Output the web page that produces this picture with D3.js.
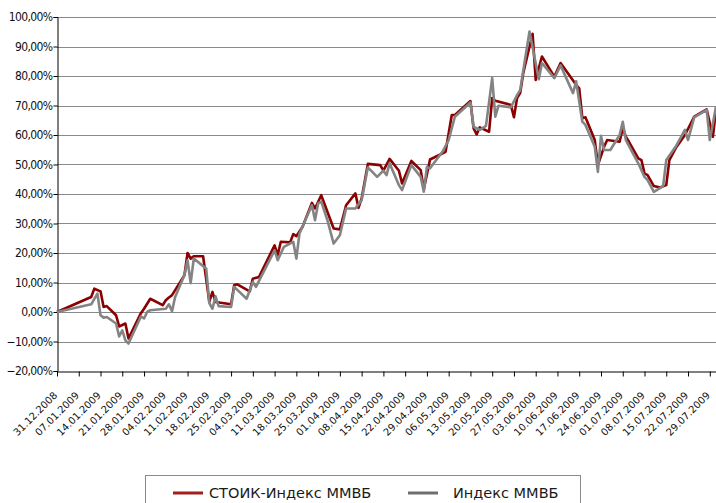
<!DOCTYPE html>
<html><head><meta charset="utf-8">
<script src="https://cdn.jsdelivr.net/npm/d3@7"></script>
<style>
html,body{margin:0;padding:0;background:#fff;}
svg{display:block;}
</style></head>
<body>
<svg id="c" width="716" height="503"></svg>
<script>
const xTickLabels = ["31.12.2008","07.01.2009","14.01.2009","21.01.2009","28.01.2009","04.02.2009","11.02.2009","18.02.2009","25.02.2009","04.03.2009","11.03.2009","18.03.2009","25.03.2009","01.04.2009","08.04.2009","15.04.2009","22.04.2009","29.04.2009","06.05.2009","13.05.2009","20.05.2009","27.05.2009","03.06.2009","10.06.2009","17.06.2009","24.06.2009","01.07.2009","08.07.2009","15.07.2009","22.07.2009","29.07.2009"];
const yTicks = [-20,-10,0,10,20,30,40,50,60,70,80,90,100];
const seriesNames = ["СТОИК-Индекс ММВБ","Индекс ММВБ"];

const stoikDates = ["2008-12-31","2009-01-11","2009-01-12","2009-01-14","2009-01-15","2009-01-16","2009-01-19","2009-01-20","2009-01-22","2009-01-23","2009-01-27","2009-01-28","2009-01-30","2009-02-03","2009-02-04","2009-02-05","2009-02-06","2009-02-10","2009-02-11","2009-02-12","2009-02-13","2009-02-16","2009-02-18","2009-02-19","2009-02-20","2009-02-25","2009-02-26","2009-02-27","2009-03-03","2009-03-04","2009-03-06","2009-03-11","2009-03-12","2009-03-13","2009-03-16","2009-03-17","2009-03-18","2009-03-20","2009-03-23","2009-03-24","2009-03-26","2009-03-30","2009-04-01","2009-04-03","2009-04-06","2009-04-07","2009-04-08","2009-04-10","2009-04-14","2009-04-15","2009-04-17","2009-04-20","2009-04-21","2009-04-24","2009-04-27","2009-04-28","2009-04-30","2009-05-05","2009-05-07","2009-05-08","2009-05-13","2009-05-14","2009-05-15","2009-05-16","2009-05-19","2009-05-20","2009-05-21","2009-05-26","2009-05-27","2009-05-28","2009-05-29","2009-05-30","2009-06-02","2009-06-03","2009-06-05","2009-06-09","2009-06-11","2009-06-16","2009-06-17","2009-06-18","2009-06-19","2009-06-22","2009-06-23","2009-06-25","2009-06-26","2009-06-30","2009-07-01","2009-07-02","2009-07-03","2009-07-06","2009-07-07","2009-07-08","2009-07-09","2009-07-11","2009-07-13","2009-07-15","2009-07-16","2009-07-18","2009-07-21","2009-07-24","2009-07-28","2009-07-30","2009-07-31"];
const stoikValues = [0,5.1,7.9,7.0,1.7,2.0,-1.1,-4.9,-3.9,-9.0,-0.4,1.1,4.5,2.3,4.0,4.9,5.7,12.5,20.0,18.1,18.9,18.9,3.4,6.8,3.4,2.6,9.1,9.4,7.0,11.3,11.9,22.6,19.3,23.8,23.6,26.4,25.7,28.9,37.0,35.1,39.6,28.3,28.0,36.2,40.2,35.3,38.5,50.2,49.8,47.9,51.9,47.9,43.6,51.2,48.1,41.6,51.7,54.3,66.8,66.8,71.5,62.3,60.2,62.6,61.1,72.5,71.6,70.2,66.0,72.5,74.2,81.0,94.3,78.7,86.6,79.8,84.4,77.0,75.8,65.7,66.0,58.3,49.8,56.0,58.3,57.7,62.3,59.4,57.7,52.1,51.5,47.0,46.4,42.7,42.2,43.0,51.5,55.5,60.0,66.2,68.7,59.4,68.5];

const micexDates = ["2008-12-31","2009-01-11","2009-01-13","2009-01-14","2009-01-15","2009-01-16","2009-01-19","2009-01-20","2009-01-21","2009-01-22","2009-01-23","2009-01-27","2009-01-28","2009-01-29","2009-01-30","2009-02-04","2009-02-05","2009-02-06","2009-02-07","2009-02-10","2009-02-11","2009-02-12","2009-02-13","2009-02-17","2009-02-18","2009-02-19","2009-02-20","2009-02-21","2009-02-25","2009-02-26","2009-03-02","2009-03-04","2009-03-05","2009-03-11","2009-03-12","2009-03-14","2009-03-17","2009-03-18","2009-03-19","2009-03-23","2009-03-24","2009-03-25","2009-03-26","2009-03-28","2009-03-30","2009-04-01","2009-04-03","2009-04-06","2009-04-08","2009-04-10","2009-04-13","2009-04-15","2009-04-16","2009-04-17","2009-04-20","2009-04-21","2009-04-24","2009-04-27","2009-04-28","2009-04-29","2009-04-30","2009-05-04","2009-05-06","2009-05-08","2009-05-13","2009-05-14","2009-05-16","2009-05-18","2009-05-20","2009-05-21","2009-05-22","2009-05-26","2009-05-28","2009-05-29","2009-06-01","2009-06-04","2009-06-05","2009-06-09","2009-06-11","2009-06-15","2009-06-16","2009-06-18","2009-06-19","2009-06-22","2009-06-23","2009-06-24","2009-06-25","2009-06-27","2009-06-30","2009-07-01","2009-07-02","2009-07-06","2009-07-08","2009-07-09","2009-07-11","2009-07-14","2009-07-15","2009-07-18","2009-07-21","2009-07-22","2009-07-24","2009-07-28","2009-07-29","2009-07-31"];
const micexValues = [0,2.6,6.2,-1.1,-1.9,-1.7,-3.9,-8.3,-6.2,-9.6,-10.7,-1.5,-2.2,0,0.6,1.1,2.6,0.3,5.1,12.5,17.5,9.8,18.1,14.7,3.0,1.1,5.3,2.0,1.7,8.5,4.5,10.2,8.5,20.9,17.6,22.1,23.8,18.1,26.6,36.2,31.1,36.8,37.4,31.1,23.2,26.0,35.1,35.1,37.9,49.0,45.8,47.9,46.4,50.4,43.0,41.3,49.8,45.8,40.8,49.2,48.7,54.3,58.3,66.2,71.0,62.8,61.7,63.1,79.3,66.2,69.9,69.4,73.5,75.2,95.1,78.9,84.4,79.3,83.6,74.2,78.2,64.5,63.4,56.0,47.5,59.7,54.9,54.9,60.0,64.5,58.3,50.4,45.8,44.7,40.7,42.7,51.5,56.0,61.7,58.3,66.0,68.5,58.3,69.6];

const svg = d3.select("#c");
const parseIso = d3.timeParse("%Y-%m-%d");
const parseRu = d3.timeParse("%d.%m.%Y");

const x = d3.scaleTime()
  .domain([parseIso("2008-12-31"), parseIso("2009-07-31")])
  .range([57, 716]);
const y = d3.scaleLinear().domain([-20, 100]).range([371, 17]);

const fmtPct = v => d3.format(".2f")(v).replace(".", ",") + "%";

// gridlines
svg.append("g").selectAll("line")
  .data(yTicks.filter(v => v > -20))
  .join("line")
  .attr("x1", 57).attr("x2", 716)
  .attr("y1", d => Math.round(y(d)) + 0.5).attr("y2", d => Math.round(y(d)) + 0.5)
  .attr("stroke", "#8a8a8a").attr("stroke-width", 1);

// y axis
const yAxis = d3.axisLeft(y).tickValues(yTicks).tickFormat(fmtPct).tickSize(4).tickPadding(1);
const gy = svg.append("g").attr("transform", "translate(57.5,0)").call(yAxis);
gy.select(".domain").attr("stroke", "#000");
gy.selectAll(".tick line").attr("stroke", "#000");
gy.selectAll("text")
  .attr("font-family", "'DejaVu Sans Condensed', 'DejaVu Sans', sans-serif")
  .attr("font-size", 12).attr("letter-spacing", "-0.6").attr("fill", "#111");

// x axis
const tickDates = xTickLabels.map(parseRu);
const xAxis = d3.axisBottom(x).tickValues(tickDates).tickFormat(d3.timeFormat("%d.%m.%Y")).tickSize(5).tickSizeOuter(0);
const gx = svg.append("g").attr("transform", "translate(0,371.5)").call(xAxis);
gx.select(".domain").attr("stroke", "#000");
gx.selectAll(".tick line").attr("stroke", "#000");
gx.selectAll("text")
  .attr("font-family", "'DejaVu Sans', sans-serif")
  .attr("font-size", 10).attr("fill", "#111")
  .attr("text-anchor", "end")
  .attr("transform", "translate(-2,22) rotate(-45)")
  .attr("y", 0).attr("x", 0).attr("dy", "0.35em");

// lines
const line = d3.line().x(d => x(d[0])).y(d => y(d[1]));
const stoikData = stoikDates.map((d, i) => [parseIso(d), stoikValues[i]]);
const micexData = micexDates.map((d, i) => [parseIso(d), micexValues[i]]);
const colors = ["#8b0000", "#848484"];
const legendColors = ["#a01f1f", "#6e6e6e"];

svg.append("path").datum(stoikData).attr("d", line)
  .attr("fill", "none").attr("stroke", colors[0]).attr("stroke-width", 2.6).attr("stroke-linejoin", "round");
svg.append("path").datum(micexData).attr("d", line)
  .attr("fill", "none").attr("stroke", colors[1]).attr("stroke-width", 2.6).attr("stroke-linejoin", "round");

// legend
const lg = svg.append("g");
lg.append("rect").attr("x", 145.5).attr("y", 475.5).attr("width", 435).attr("height", 40)
  .attr("fill", "#fff").attr("stroke", "#8a8a8a");
const items = [{x: 173, tx: 209}, {x: 408, tx: 453}];
items.forEach((it, i) => {
  lg.append("line").attr("x1", it.x).attr("x2", it.x + 30).attr("y1", 493).attr("y2", 493)
    .attr("stroke", legendColors[i]).attr("stroke-width", 3);
  lg.append("text").attr("x", it.tx).attr("y", 498)
    .attr("font-family", "'DejaVu Sans', sans-serif").attr("font-size", 14.5).attr("fill", "#1a1a1a")
    .text(seriesNames[i]);
});
</script>
</body></html>
